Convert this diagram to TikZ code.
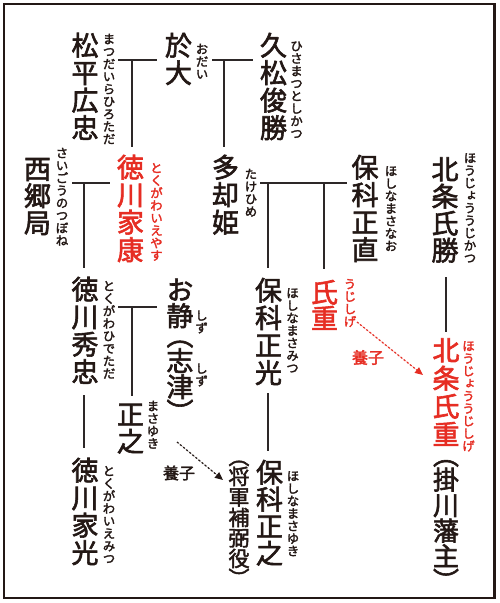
\documentclass[tikz,border=0pt]{standalone}
\usepackage{fontspec}
\usetikzlibrary{arrows.meta}
\newfontfamily\jp[RawFeature=+vert,FakeBold=2.2]{Noto Sans CJK JP}
\definecolor{jred}{RGB}{230,45,35}
\definecolor{jblack}{RGB}{35,24,21}
\definecolor{jline}{RGB}{45,40,40}
\ExplSyntaxOn
\dim_new:N \l_vt_pitch_dim
\dim_new:N \l_vt_pp_dim
\NewDocumentCommand\vt{O{0.7}mm}{
  \vbox{
    \offinterlineskip
    \dim_set:Nn \l_vt_pitch_dim {#2}
    \dim_set:Nn \l_vt_pp_dim {#1\l_vt_pitch_dim}
    \tl_map_inline:nn {#3} {
      \str_case:nnF {##1}
        {
          {︵}{ \hbox_to_wd:nn {1em} { \hss \vbox_to_ht:nn {\l_vt_pp_dim} { \vss \hbox:n { \raisebox{\depth}{##1} } } \hss } }
          {︶}{ \hbox_to_wd:nn {1em} { \hss \vbox_to_ht:nn {\l_vt_pp_dim} { \hbox:n { \raisebox{\depth}{##1} } \vss } \hss } }
        }
        { \hbox_to_wd:nn {1em} { \hss \smash{##1} \hss \rule[\dim_eval:n {0.38em - 0.5\l_vt_pitch_dim}]{0pt}{\l_vt_pitch_dim} } }
    }
  }
}
\ExplSyntaxOff
\tikzset{
  nm/.style={anchor=north, inner sep=0pt, text=jblack, font=\jp\fontsize{27}{27}\selectfont},
  fr/.style={anchor=north, inner sep=0pt, text=jblack, font=\jp\fontsize{12.5}{12.5}\selectfont},
  hl/.style={text=jred},
  conn/.style={draw=jline, line width=1.3pt},
  adopt/.style={line width=1.2pt, dash pattern=on 2pt off 2pt, -{Triangle[length=8pt,width=7pt]}},
  lbl/.style={inner sep=0pt, font=\jp\fontsize{16}{16}\selectfont}
}
\begin{document}
\begin{tikzpicture}[x=1pt,y=-1pt]
\useasboundingbox (0,0) rectangle (500,603);
\fill[white] (0,0) rectangle (500,603);
\draw[line width=2.5pt, draw=jblack] (4,4) rectangle (494.5,598);

% main names
\node[nm] (hirotada) at (85,31.25) {\vt{27.5pt}{松平広忠}};
\node[nm] (odai) at (178.5,31.25) {\vt{27.5pt}{於大}};
\node[nm] (toshikatsu) at (273.5,31.25) {\vt{27.5pt}{久松俊勝}};
\node[nm] (saigo) at (37.5,155) {\vt{27pt}{西郷局}};
\node[nm,hl] (ieyasu) at (130.5,153.25) {\vt{27.5pt}{徳川家康}};
\node[nm] (takehime) at (225.5,153.25) {\vt{27.5pt}{多却姫}};
\node[nm] (masanao) at (365,153.25) {\vt{27.5pt}{保科正直}};
\node[nm] (ujikatsu) at (445,155.5) {\vt{27pt}{北条氏勝}};
\node[nm] (hidetada) at (85,275.25) {\vt{27.5pt}{徳川秀忠}};
\node[nm] (oshizu) at (180,276.5) {\vt[0.73]{26pt}{お静︵志津︶}};
\node[nm] (masayuki) at (130.5,400.5) {\vt{27pt}{正之}};
\node[nm] (iemitsu) at (85,456.25) {\vt{27.5pt}{徳川家光}};
\node[nm] (masamitsu) at (268.5,276.25) {\vt{27.5pt}{保科正光}};
\node[nm,hl] (ujishige) at (324.5,279) {\vt{26pt}{氏重}};
\node[nm,hl] (hojo) at (446,336) {\vt{28pt}{北条氏重}};
\node[nm, font=\jp\fontsize{26}{26}\selectfont] (kakegawa) at (446,449.5) {\vt[0.67]{25.5pt}{︵掛川藩主︶}};
\node[nm] (hoshina) at (269.5,458.5) {\vt{27pt}{保科正之}};
\node[nm, font=\jp\fontsize{21}{21}\selectfont] (shogun) at (239,452) {\vt[0.68]{20.5pt}{︵将軍補弼役︶}};

% furigana
\node[fr] (f-hirotada) at (109,32.5) {\vt{12.5pt}{まつだいらひろただ}};
\node[fr] (f-odai) at (202,42.5) {\vt{12.5pt}{おだい}};
\node[fr] (f-toshikatsu) at (296.5,39.5) {\vt{12.5pt}{ひさまつとしかつ}};
\node[fr] (f-saigo) at (62,146.5) {\vt{12.5pt}{さいごうのつぼね}};
\node[fr,hl] (f-ieyasu) at (156.5,161.5) {\vt{12.5pt}{とくがわいえやす}};
\node[fr] (f-takehime) at (251,167.5) {\vt{12.5pt}{たけひめ}};
\node[fr] (f-masanao) at (391,164.5) {\vt{12.5pt}{ほしなまさなお}};
\node[fr] (f-ujikatsu) at (470,151.5) {\vt{12.5pt}{ほうじょううじかつ}};
\node[fr] (f-hidetada) at (109,279.5) {\vt{12.5pt}{とくがわひでただ}};
\node[fr] (f-oshizu) at (201.5,309) {\vt{12.5pt}{しず}};
\node[fr] (f-shizu) at (201.5,362) {\vt{12.5pt}{しず}};
\node[fr] (f-masayuki) at (153,399.5) {\vt{12.5pt}{まさゆき}};
\node[fr] (f-iemitsu) at (109,464.5) {\vt{12.5pt}{とくがわいえみつ}};
\node[fr] (f-masamitsu) at (292.5,286.5) {\vt{12.5pt}{ほしなまさみつ}};
\node[fr,hl] (f-ujishige) at (350,277.5) {\vt{12.5pt}{うじしげ}};
\node[fr,hl] (f-hojo) at (468.5,339.5) {\vt{12.5pt}{ほうじょううじしげ}};
\node[fr] (f-hoshina) at (293,469.5) {\vt{12.5pt}{ほしなまさゆき}};

% labels
\node[lbl, text=jred] (yoshi1) at (368,357.5) {養子};
\node[lbl, text=jblack] (yoshi2) at (179,473) {養子};

% connector coordinates
\coordinate (m1a) at (118,60); \coordinate (m1b) at (157,60); \coordinate (m1) at (132,60);
\coordinate (m2a) at (212,60); \coordinate (m2b) at (253,60); \coordinate (m2) at (224,60);
\coordinate (m3a) at (72,183); \coordinate (m3b) at (110,183); \coordinate (m3) at (84,183);
\coordinate (m4a) at (260,183); \coordinate (m4b) at (347,183);
\coordinate (m4) at (268,183); \coordinate (m4r) at (324,183);
\coordinate (m5a) at (118,307); \coordinate (m5b) at (157,307); \coordinate (m5) at (132,307);
\coordinate (c6) at (84,395); \coordinate (c7) at (268,393);
\coordinate (c8) at (446,277);
\coordinate (a1s) at (357,322); \coordinate (a1e) at (423,375);
\coordinate (a2s) at (177,442); \coordinate (a2e) at (223,480);

\draw[conn, shorten >=6pt] (m1) -- (m1 |- ieyasu.north);
\draw[conn] (m1a) -- (m1b);
\draw[conn] (m2a) -- (m2b);
\draw[conn, shorten >=6pt] (m2) -- (m2 |- takehime.north);
\draw[conn] (m3a) -- (m3b);
\draw[conn, shorten >=7pt] (m3) -- (m3 |- hidetada.north);
\draw[conn] (m4a) -- (m4b);
\draw[conn, shorten >=8pt] (m4) -- (m4 |- masamitsu.north);
\draw[conn, shorten >=10pt] (m4r) -- (m4r |- ujishige.north);
\draw[conn] (m5a) -- (m5b);
\draw[conn, shorten >=5pt] (m5) -- (m5 |- masayuki.north);
\draw[conn, shorten >=8pt] (c6) -- (c6 |- iemitsu.north);
\draw[conn, shorten >=8pt] (c7) -- (c7 |- hoshina.north);
\draw[conn, shorten >=4pt] (c8) -- (c8 |- hojo.north);
\draw[adopt, draw=jred, fill=jred] (a1s) -- (a1e);
\draw[adopt, draw=jblack, fill=jblack] (a2s) -- (a2e);
\end{tikzpicture}
\end{document}
